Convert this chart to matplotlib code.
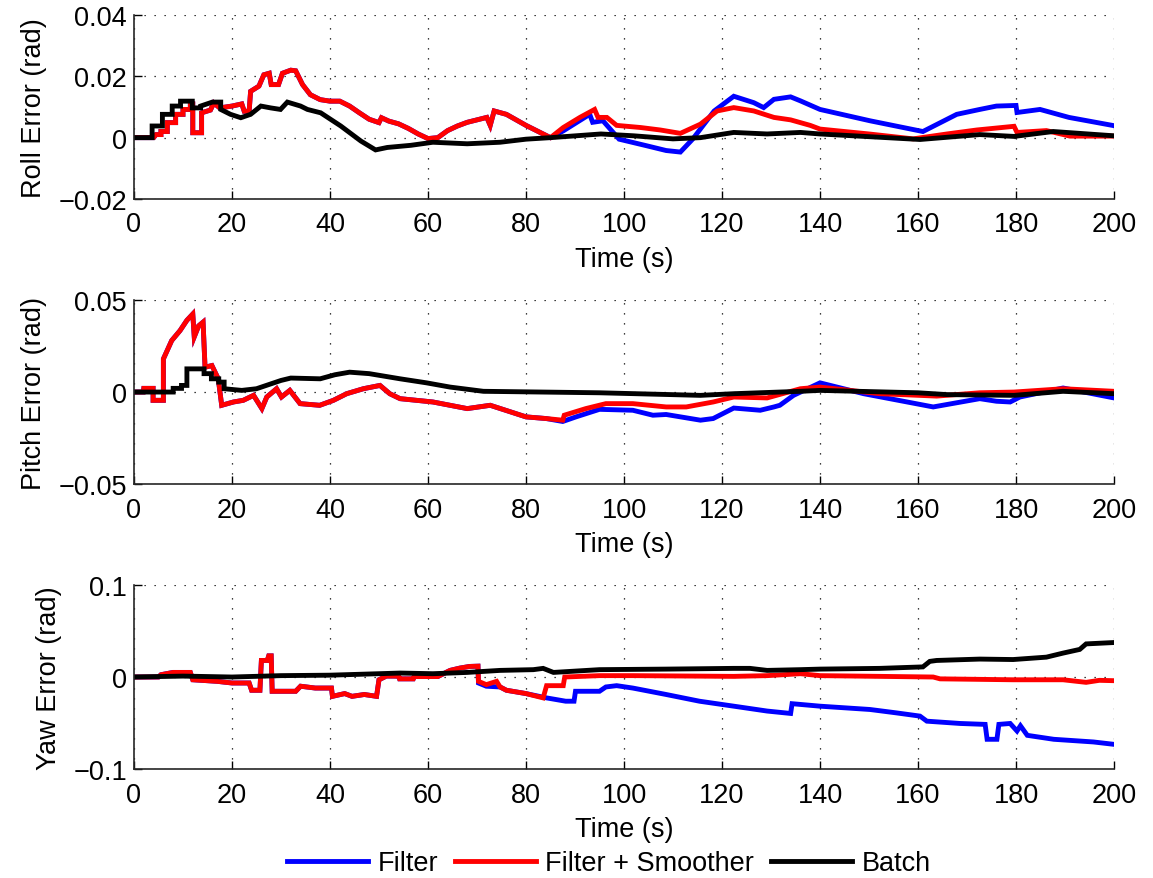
# ============================================================
# Attitude error plots: Roll / Pitch / Yaw vs time
# Filter, Filter + Smoother and Batch estimates
# ============================================================

import matplotlib
matplotlib.use("Agg")
import matplotlib.pyplot as plt


# -----------------------------
# Data
# -----------------------------
# ---- Roll ----
roll_smooth_t = [0, 4, 4.5, 5.5, 5.5, 6.8, 6.8, 8.5, 8.5, 10, 10, 11.5, 11.5, 12, 12, 13.8, 13.8, 15.6,
                 16.3, 17.5, 20, 22, 22.5, 23.5, 23.8, 25.5, 26.5, 27.6, 28, 29.5, 30.3, 32, 33, 34.4,
                 36, 38, 40, 42, 44, 46, 48, 50, 50.5, 52, 54, 56, 58, 60, 62, 64, 66, 68, 72, 72.7,
                 73.5, 76, 80, 85, 87.6, 91, 94, 94.7, 96.5, 98.5, 103.4, 107.4, 111.5, 115.6, 119,
                 122.4, 126.5, 130.6, 134, 138, 140, 150, 159, 165.9, 172, 179.6, 180.2, 186.2, 191, 200]
roll_smooth = [0, 0, 0.001, 0.001, 0.002, 0.002, 0.0049, 0.0049, 0.0076, 0.0076, 0.0092, 0.0092, 0.011,
               0.011, 0.0016, 0.0016, 0.0081, 0.009, 0.0113, 0.0097, 0.0103, 0.011, 0.0086, 0.0086,
               0.0151, 0.0168, 0.0205, 0.021, 0.0173, 0.0173, 0.021, 0.022, 0.0218, 0.0173, 0.014,
               0.0124, 0.0119, 0.0119, 0.0103, 0.0081, 0.006, 0.0049, 0.0065, 0.0054, 0.0045, 0.003,
               0.0012, -0.0003, 0.0, 0.0023, 0.0038, 0.005, 0.0066, 0.004, 0.0087, 0.0076, 0.004, 0.0,
               0.0033, 0.0066, 0.0092, 0.0066, 0.0066, 0.004, 0.0033, 0.0025, 0.0014, 0.0044, 0.0087,
               0.0098, 0.0087, 0.0066, 0.0058, 0.004, 0.0028, 0.0012, -0.0004, 0.0012, 0.0025, 0.0037,
               0.0017, 0.0023, 0.0005, 0.0005]

roll_filter_t_tail = [87.6, 93, 93.6, 95.7, 99, 104.5, 108.6, 111.5, 114, 118.4, 122.4, 126.5, 128.5,
                      130.6, 134, 136, 140, 150.2, 161, 167.9, 172.6, 176, 180, 180.2, 184.9, 190.8, 200]
roll_filter_tail = [0.0022, 0.0076, 0.005, 0.0055, -0.0005, -0.0026, -0.0042, -0.0047, -0.0005, 0.0087,
                    0.0135, 0.0114, 0.0098, 0.0125, 0.0133, 0.012, 0.0092, 0.0055, 0.002, 0.0076,
                    0.0092, 0.0103, 0.0105, 0.0082, 0.0092, 0.0066, 0.0039]

roll_batch_t = [0, 3.7, 3.7, 5.8, 5.8, 7.8, 7.8, 9.5, 9.5, 11.9, 11.9, 13.6, 13.6, 16, 17.7, 17.7, 19.7,
                21.8, 23.8, 25.9, 27.9, 29.9, 31.3, 34, 35.4, 38.1, 42.2, 46.3, 49.3, 51.7, 56.5, 61,
                68, 74.7, 80, 85, 95.3, 102, 110, 115.6, 122.4, 129.2, 136, 140, 160.4, 172.6, 179.6,
                187.6, 200]
roll_batch = [0, 0, 0.0038, 0.0038, 0.0076, 0.0076, 0.0103, 0.0103, 0.0119, 0.0119, 0.0097, 0.0097,
              0.0103, 0.0116, 0.0116, 0.0092, 0.0076, 0.0065, 0.0076, 0.0103, 0.0097, 0.0092, 0.0116,
              0.0103, 0.0092, 0.0081, 0.0038, -0.0011, -0.004, -0.0032, -0.0025, -0.0015, -0.002,
              -0.0015, -0.0005, 0.0, 0.0012, 0.0006, -0.0004, 0.0, 0.0017, 0.0012, 0.0017, 0.0012,
              -0.0006, 0.001, 0.0004, 0.002, 0.0006]

# ---- Pitch ----
pitch_smooth_t = [0, 1.9, 2, 3.9, 3.9, 6, 6, 7.7, 9.4, 10.8, 12, 12.3, 13.2, 14.1, 14.5, 15.9, 17.2,
                  17.9, 20.3, 22.3, 24.4, 26.1, 27.1, 29.1, 30.1, 31.8, 33.9, 37.9, 40.7, 43.4, 46.8,
                  50.2, 52.2, 54.3, 61, 68, 72.7, 80, 84.1, 87.5, 87.8, 92.2, 96.3, 101.8, 108.6, 112.7,
                  118.2, 122.4, 129.2, 136, 140, 152.2, 163.8, 172.6, 179.6, 189.6, 200]
pitch_smooth = [0, 0, 0.002, 0.002, -0.0045, -0.0045, 0.018, 0.028, 0.0334, 0.039, 0.0424, 0.030,
                0.036, 0.038, 0.0135, 0.0144, 0.0072, -0.0072, -0.0054, -0.0045, -0.0018, -0.009,
                -0.0027, 0.0018, -0.0027, 0.0009, -0.0063, -0.0072, -0.0045, -0.0009, 0.0018, 0.0036,
                -0.0009, -0.0036, -0.0054, -0.009, -0.0072, -0.0135, -0.0144, -0.0153, -0.0126, -0.009,
                -0.0063, -0.0063, -0.0081, -0.0081, -0.0054, -0.0027, -0.0032, 0.0018, 0.0027, -0.0009,
                -0.0022, -0.0004, 0.0, 0.0018, 0.0004]

pitch_filter_t_tail = [87.5, 90.2, 95, 101.8, 105.9, 108.6, 115.6, 118.2, 122.4, 127.8, 130.6, 131.8,
                       134.6, 140, 148.9, 163.1, 172.6, 176, 178.8, 180.8, 189.6, 200]
pitch_filter_tail = [-0.016, -0.0135, -0.0094, -0.0099, -0.0126, -0.0122, -0.0153, -0.0144, -0.0087,
                     -0.0099, -0.0081, -0.0072, -0.0018, 0.005, -0.0009, -0.0081, -0.0036, -0.005,
                     -0.0054, -0.0027, 0.0022, -0.0032]

pitch_batch_t = [0, 8, 8, 9.7, 9.7, 10.8, 10.8, 14.3, 14.3, 15.8, 15.8, 17.3, 17.3, 18.4, 18.4, 22, 25,
                 27, 30, 32, 38, 41, 44, 48, 54.3, 59.7, 64.5, 71.3, 95, 115.6, 122.4, 136, 140, 160,
                 166, 179.6, 189.6, 200]
pitch_batch = [0, 0, 0.002, 0.002, 0.0036, 0.0036, 0.0126, 0.0126, 0.01, 0.01, 0.0072, 0.0072, 0.0054,
               0.0054, 0.0018, 0.0009, 0.0018, 0.0036, 0.0063, 0.0076, 0.0072, 0.0094, 0.0108, 0.01,
               0.0072, 0.005, 0.0027, 0.0004, -0.0004, -0.0018, -0.0009, 0.0004, 0.0009, -0.0004,
               -0.0014, -0.0018, 0.0004, -0.0009]

# ---- Yaw ----
yaw_smooth_t = [0, 5, 5.5, 8, 11.5, 12, 17, 20, 23.5, 24, 25.7, 26, 27.2, 27.5, 28, 28.2, 33, 34, 37,
                40.3, 40.5, 43, 44.5, 47, 49.5, 50, 51.5, 54, 54.2, 57, 57.2, 62, 64.5, 66.5, 68.5, 70.2,
                70.3, 71.9, 74, 74.7, 76, 80, 83.5, 84.2, 87.6, 87.9, 95, 101.8, 122.4, 129.2, 136, 140,
                163.1, 164.5, 179.4, 189.6, 194.3, 197, 200]
yaw_smooth = [0, 0, 0.0025, 0.005, 0.005, -0.003, -0.0047, -0.0065, -0.0065, -0.0144, -0.0144, 0.018,
              0.018, 0.023, 0.023, -0.0155, -0.0155, -0.01, -0.012, -0.012, -0.021, -0.018, -0.021,
              -0.019, -0.021, -0.003, 0.001, 0.001, -0.002, -0.002, 0.0005, 0.0005, 0.0072, 0.0097,
              0.0115, 0.0118, -0.0047, -0.0083, -0.0047, -0.0108, -0.0144, -0.018, -0.0227, -0.0094,
              -0.0094, 0.0, 0.0015, 0.0015, 0.0007, 0.0015, 0.0036, 0.0015, 0.0, -0.002, -0.003, -0.003,
              -0.0058, -0.0036, -0.004]

yaw_filter_t_tail = [70.3, 71.9, 74.7, 76, 80, 84.2, 88.1, 89.8, 90.1, 95, 96.3, 98.5, 101.8, 108.6,
                     115.4, 122.4, 129.2, 134, 134.3, 140, 150.2, 155.6, 160.4, 161.8, 168.6, 173.7,
                     174.1, 176.1, 176.5, 178.8, 180.2, 180.9, 182.3, 187.7, 195.8, 200]
yaw_filter_tail = [-0.0065, -0.01, -0.0108, -0.0144, -0.018, -0.0227, -0.0263, -0.0263, -0.0155,
                   -0.0155, -0.0108, -0.0094, -0.012, -0.019, -0.0263, -0.0317, -0.037, -0.0396, -0.029,
                   -0.0317, -0.0353, -0.039, -0.0425, -0.048, -0.0505, -0.0515, -0.0677, -0.0677,
                   -0.0515, -0.0505, -0.0587, -0.053, -0.0634, -0.0677, -0.0706, -0.0732]

yaw_batch_t = [0, 10, 20, 30, 40, 50, 54.3, 61, 68, 74.7, 81.5, 83.5, 85.6, 95, 108.6, 122.4, 125.7,
               129.2, 136, 140, 152.2, 161, 162.4, 163.8, 172.6, 179.4, 186.2, 189.6, 193, 194.3, 200]
yaw_batch = [0, 0.001, 0, 0.0015, 0.002, 0.0036, 0.0043, 0.0036, 0.005, 0.0072, 0.008, 0.0094, 0.005,
             0.008, 0.0086, 0.0094, 0.0094, 0.0072, 0.008, 0.0086, 0.0094, 0.011, 0.017, 0.018, 0.0195,
             0.019, 0.0216, 0.026, 0.030, 0.036, 0.0375]

# the Filter run is identical to Filter + Smoother until the two split
roll_split, pitch_split, yaw_split = 85, 87.5, 70.3
roll_filter_t = [t for t in roll_smooth_t if t <= roll_split]
roll_filter = roll_smooth[:len(roll_filter_t)]
roll_filter_t += roll_filter_t_tail
roll_filter += roll_filter_tail
pitch_filter_t = [t for t in pitch_smooth_t if t < pitch_split]
pitch_filter = pitch_smooth[:len(pitch_filter_t)]
pitch_filter_t += pitch_filter_t_tail
pitch_filter += pitch_filter_tail
yaw_filter_t = [t for t in yaw_smooth_t if t < yaw_split]
yaw_filter = yaw_smooth[:len(yaw_filter_t)]
yaw_filter_t += yaw_filter_t_tail
yaw_filter += yaw_filter_tail

y_labels = ["Roll Error (rad)", "Pitch Error (rad)", "Yaw Error (rad)"]
y_limits = [(-0.02, 0.04), (-0.05, 0.05), (-0.1, 0.1)]
y_ticks = [[-0.02, 0, 0.02, 0.04], [-0.05, 0, 0.05], [-0.1, 0, 0.1]]
y_tick_labels = [["\u22120.02", "0", "0.02", "0.04"], ["\u22120.05", "0", "0.05"], ["\u22120.1", "0", "0.1"]]
x_ticks = [0, 20, 40, 60, 80, 100, 120, 140, 160, 180, 200]
series_names = ["Filter", "Filter + Smoother", "Batch"]
series_colors = ["#0000ff", "#ff0000", "#000000"]


# -----------------------------
# Figure
# -----------------------------
plt.rcParams["font.family"] = ["Liberation Sans", "DejaVu Sans"]
plt.rcParams["font.size"] = 19.5

fig = plt.figure(figsize=(11.53, 8.79), dpi=100)

panels = [
    (roll_filter_t, roll_filter, roll_smooth_t, roll_smooth, roll_batch_t, roll_batch),
    (pitch_filter_t, pitch_filter, pitch_smooth_t, pitch_smooth, pitch_batch_t, pitch_batch),
    (yaw_filter_t, yaw_filter, yaw_smooth_t, yaw_smooth, yaw_batch_t, yaw_batch),
]
bottoms = [0.7725, 0.4482, 0.124]

for i, p in enumerate(panels):
    ax = fig.add_axes([0.1162, bottoms[i], 0.85, 0.2093])
    lines = []
    for k in range(3):
        ln, = ax.plot(p[2 * k], p[2 * k + 1], color=series_colors[k], lw=3.5,
                      solid_joinstyle="miter", label=series_names[k])
        lines.append(ln)

    ax.set_xlim(0, 200)
    ax.set_ylim(*y_limits[i])
    ax.set_xticks(x_ticks)
    ax.set_yticks(y_ticks[i])
    ax.set_yticklabels(y_tick_labels[i])
    ax.set_xlabel("Time (s)", labelpad=6)
    ax.set_ylabel(y_labels[i], labelpad=8)

    ax.grid(True, color="black", linestyle=(0, (1, 7)), linewidth=0.9)
    ax.spines["top"].set_visible(False)
    ax.spines["right"].set_visible(False)
    for s in ["left", "bottom"]:
        ax.spines[s].set_linewidth(1.2)
        ax.spines[s].set_color("#262626")
    ax.tick_params(direction="in", length=6, width=1)
    ax.tick_params(axis="x", pad=9)
    ax.tick_params(axis="y", pad=5)

fig.legend(lines, series_names, loc="center", bbox_to_anchor=(0.528, 0.017), ncol=3,
           frameon=False, handlelength=3.0, handletextpad=0.35, columnspacing=0.6,
           borderaxespad=0)

fig.savefig("out.png", dpi=100)
